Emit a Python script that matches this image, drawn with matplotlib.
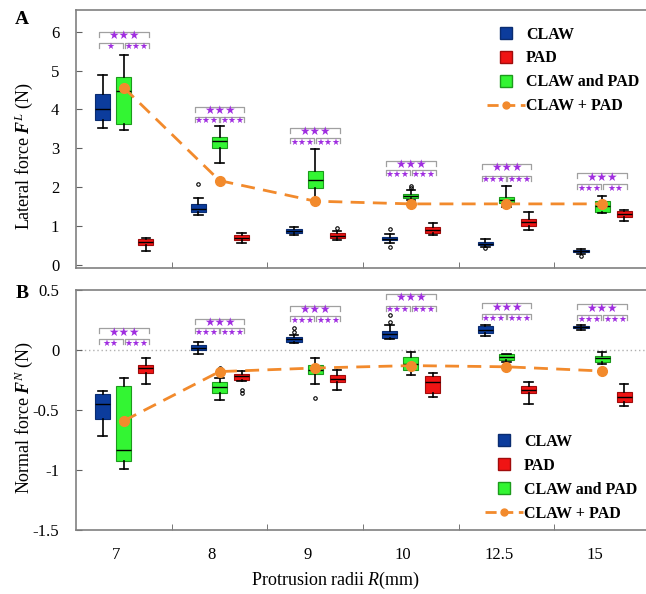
import matplotlib
matplotlib.use('Agg')
import matplotlib.pyplot as plt
from matplotlib.lines import Line2D
import numpy as np

plt.rcParams['font.family'] = ['Liberation Serif', 'DejaVu Sans']
plt.rcParams['mathtext.fontset'] = 'custom'
plt.rcParams['mathtext.rm'] = 'Liberation Serif'
plt.rcParams['mathtext.it'] = 'Liberation Serif:italic'
plt.rcParams['mathtext.bf'] = 'Liberation Serif:bold'
plt.rcParams['mathtext.bfit'] = 'Liberation Serif:bold:italic'

radii = ['7', '8', '9', '10', '12.5', '15']

# box stats per radius: (whisker low, q1, median, q3, whisker high)
lat_claw = [(3.53, 3.74, 4.02, 4.41, 4.88), (1.28, 1.36, 1.44, 1.56, 1.72),
            (0.78, 0.82, 0.88, 0.92, 0.97), (0.56, 0.63, 0.67, 0.72, 0.79),
            (0.45, 0.50, 0.55, 0.60, 0.66), (0.28, 0.32, 0.35, 0.38, 0.41)]
lat_claw_out = [[], [2.08], [], [0.92, 0.45], [0.44], [0.23]]
lat_both = [(3.47, 3.62, 4.48, 4.84, 5.40), (2.62, 3.02, 3.18, 3.30, 3.58),
            (1.67, 1.99, 2.19, 2.42, 2.97), (1.66, 1.73, 1.78, 1.83, 1.93),
            (1.50, 1.60, 1.68, 1.76, 2.02), (1.34, 1.37, 1.52, 1.65, 1.78)]
lat_both_out = [[], [], [], [1.98, 2.04], [], []]
lat_pad = [(0.37, 0.50, 0.58, 0.66, 0.70), (0.56, 0.64, 0.70, 0.76, 0.82),
           (0.63, 0.68, 0.74, 0.81, 0.88), (0.77, 0.83, 0.89, 0.97, 1.07),
           (0.90, 1.00, 1.10, 1.19, 1.36), (1.13, 1.22, 1.30, 1.38, 1.42)]
lat_pad_out = [[], [], [0.96], [], [], []]
lat_sum = [4.56, 2.17, 1.64, 1.57, 1.57, 1.57]

norm_claw = [(-0.72, -0.575, -0.45, -0.37, -0.34), (-0.03, 0.00, 0.02, 0.04, 0.065),
             (0.056, 0.07, 0.09, 0.105, 0.125), (0.09, 0.10, 0.13, 0.155, 0.21),
             (0.12, 0.14, 0.17, 0.20, 0.21), (0.17, 0.18, 0.19, 0.20, 0.21)]
norm_claw_out = [[], [], [0.15, 0.18], [0.23, 0.29], [], []]
norm_both = [(-0.99, -0.925, -0.83, -0.30, -0.23), (-0.42, -0.36, -0.31, -0.27, -0.23),
             (-0.28, -0.20, -0.165, -0.125, -0.065), (-0.21, -0.17, -0.12, -0.055, -0.015),
             (-0.10, -0.08, -0.055, -0.036, -0.03), (-0.12, -0.10, -0.07, -0.047, -0.02)]
norm_both_out = [[], [-0.15], [-0.40], [], [], []]
norm_pad = [(-0.28, -0.19, -0.15, -0.125, -0.07), (-0.26, -0.25, -0.22, -0.20, -0.175),
            (-0.33, -0.27, -0.24, -0.21, -0.17), (-0.39, -0.36, -0.27, -0.22, -0.19),
            (-0.45, -0.36, -0.33, -0.30, -0.27), (-0.47, -0.43, -0.39, -0.35, -0.28)]
norm_pad_out = [[], [-0.33, -0.36], [], [], [], []]
norm_sum = [-0.59, -0.18, -0.15, -0.13, -0.14, -0.175]

# significance brackets
lat_sig_top = [6.0, 4.07, 3.53, 2.68, 2.60, 2.36]
lat_sig_low = [5.72, 3.81, 3.26, 2.43, 2.29, 2.08]
lat_stars_l = ['★', '★★★', '★★★', '★★★', '★★★', '★★★']
lat_stars_r = ['★★★', '★★★', '★★★', '★★★', '★★★', '★★']
norm_sig_top = [0.18, 0.26, 0.37, 0.47, 0.39, 0.38]
norm_sig_low = [0.09, 0.18, 0.28, 0.37, 0.30, 0.29]
norm_stars_l = ['★★', '★★★', '★★★', '★★★', '★★★', '★★★']
norm_stars_r = ['★★★', '★★★', '★★★', '★★★', '★★★', '★★★']

c_claw, e_claw = '#0c3c9c', '#0a2c70'
c_pad, e_pad = '#f01414', '#a00c0c'
c_both, e_both = '#33f533', '#1c9a1c'
c_sum = '#f28a2c'
c_star = '#a02ee0'

pos = np.arange(1, 7)


def draw_boxes(ax, stats, outs, off, fc, ec):
    bs = []
    for s, o in zip(stats, outs):
        bs.append(dict(whislo=s[0], q1=s[1], med=s[2], q3=s[3], whishi=s[4], fliers=o))
    ax.bxp(bs, positions=pos + off, widths=0.16, capwidths=0.09, patch_artist=True,
           showfliers=True, manage_ticks=False,
           boxprops=dict(facecolor=fc, edgecolor=ec, linewidth=0.8),
           medianprops=dict(color='black', linewidth=1.0),
           whiskerprops=dict(color='black', linewidth=1.2),
           capprops=dict(color='black', linewidth=1.2),
           flierprops=dict(marker='o', markersize=2.5, markerfacecolor='none',
                           markeredgecolor='black', markeredgewidth=0.8))


def draw_sig(ax, tops, lows, sl, sr, leg):
    for i, x in enumerate(pos):
        for (x0, x1, y, t, fs) in [(x - 0.26, x + 0.26, tops[i], '★★★', 8.5),
                                   (x - 0.26, x - 0.01, lows[i], sl[i], 6.4),
                                   (x + 0.01, x + 0.26, lows[i], sr[i], 6.4)]:
            ax.plot([x0, x0, x1, x1], [y - leg, y, y, y - leg], color='#a0a0a0', lw=0.9)
            ax.text((x0 + x1) / 2, y - leg * 0.8, t, color=c_star, fontsize=fs,
                    family='DejaVu Sans', ha='center', va='center')


def style(ax):
    for sp in ax.spines.values():
        sp.set_color('#808080')
        sp.set_linewidth(1.2)
    ax.set_xlim(0.5, 6.5)
    ax.set_xticks(pos - 0.08)
    ax.set_xticks(pos[:-1] + 0.5, minor=True)
    ax.tick_params(axis='x', which='major', length=0, labelsize=12, pad=12)
    ax.tick_params(axis='x', which='minor', direction='in', length=4, color='#606060')
    ax.tick_params(axis='y', direction='in', length=4, color='#606060', labelsize=12, pad=12)


fig = plt.figure(figsize=(6.46, 5.94), dpi=100)
axA = fig.add_axes([76 / 646, 326 / 594, 574 / 646, 258 / 594])
axB = fig.add_axes([76 / 646, 64 / 594, 574 / 646, 240 / 594])

for ax, sets, summ, ylim in [
        (axA, [(lat_claw, lat_claw_out, -0.22, c_claw, e_claw),
               (lat_both, lat_both_out, 0.0, c_both, e_both),
               (lat_pad, lat_pad_out, 0.23, c_pad, e_pad)], lat_sum, (-0.08, 6.56)),
        (axB, [(norm_claw, norm_claw_out, -0.22, c_claw, e_claw),
               (norm_both, norm_both_out, 0.0, c_both, e_both),
               (norm_pad, norm_pad_out, 0.23, c_pad, e_pad)], norm_sum, (-1.5, 0.5))]:
    for st, ou, off, fc, ec in sets:
        draw_boxes(ax, st, ou, off, fc, ec)
    ax.plot(pos, summ, color=c_sum, lw=2, dashes=(5, 3), marker='o', markersize=7, zorder=5)
    ax.set_ylim(*ylim)
    style(ax)

axB.axhline(0, color='#b0b0b0', lw=1, ls=(0, (1, 2)), zorder=0)

legA = 5 * (6.64 / 258)
legB = 5 * (2.0 / 240)
draw_sig(axA, lat_sig_top, lat_sig_low, lat_stars_l, lat_stars_r, legA)
draw_sig(axB, norm_sig_top, norm_sig_low, norm_stars_l, norm_stars_r, legB)

axA.set_yticks([0, 1, 2, 3, 4, 5, 6])
axA.tick_params(axis='x', labelbottom=False)
axB.set_yticks([-1.5, -1, -0.5, 0, 0.5])
axB.set_yticklabels(['-1.5', '-1', '-0.5', '0', '0.5'])
axB.set_xticklabels(radii)

axA.set_ylabel(r'Lateral force $\mathbfit{F}^{\mathit{L}}$ (N)', fontsize=13)
axA.yaxis.set_label_coords(-0.072, 0.434)
axB.set_ylabel(r'Normal force $\mathbfit{F}^{\mathit{N}}$ (N)', fontsize=13)
axB.yaxis.set_label_coords(-0.072, 0.47)
axB.set_xlabel(r'Protrusion radii $\mathit{R}$(mm)', fontsize=13)
axB.xaxis.set_label_coords(0.452, -0.165)

fig.text(22 / 646, 1 - 20 / 594, 'A', fontsize=14, fontweight='bold', ha='center', va='center')
fig.text(22 / 646, 1 - 293 / 594, 'B', fontsize=14, fontweight='bold', ha='center', va='center')

handles = [Line2D([], [], marker='s', ls='none', markersize=8, color=c_claw, markeredgecolor=e_claw),
           Line2D([], [], marker='s', ls='none', markersize=8, color=c_pad, markeredgecolor=e_pad),
           Line2D([], [], marker='s', ls='none', markersize=8, color=c_both, markeredgecolor=e_both),
           Line2D([], [], color=c_sum, lw=2, dashes=(4, 2), marker='o', markersize=5)]
labels = ['CLAW', 'PAD', 'CLAW and PAD', 'CLAW + PAD']
for ax, anchor in [(axA, (0.716, 0.936)), (axB, (0.712, 0.40))]:
    ax.legend(handles, labels, loc='upper left', bbox_to_anchor=anchor, frameon=False,
              borderaxespad=0, borderpad=0, handlelength=2.4, handletextpad=0.05,
              labelspacing=0.5, numpoints=1, prop=dict(weight='bold', size=11.5))

fig.savefig('out.png', dpi=100)
